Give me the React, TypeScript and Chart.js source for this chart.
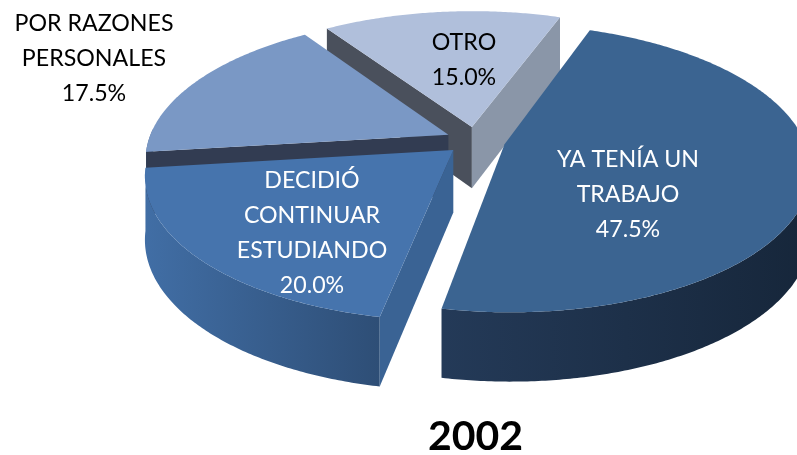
import React, { useEffect, useRef } from "react";
import { Chart, registerables } from "chart.js";

Chart.register(...registerables);

const categories = ["YA TENÍA UN TRABAJO", "DECIDIÓ CONTINUAR ESTUDIANDO", "POR RAZONES PERSONALES", "OTRO"];
const shares = [47.5, 20.0, 17.5, 15.0];
const labelLines = [
  ["YA TENÍA UN", "TRABAJO", "47.5%"],
  ["DECIDIÓ", "CONTINUAR", "ESTUDIANDO", "20.0%"],
  ["POR RAZONES", "PERSONALES", "17.5%"],
  ["OTRO", "15.0%"],
];
const chartTitle = "2002";

const topColors = ["#3b6491", "#4674ad", "#7a98c5", "#b0bfdb"];
const labelColors = ["#ffffff", "#ffffff", "#000000", "#000000"];
const labelCenters = [
  [628, 194.5],
  [312, 233.5],
  [94, 58.5],
  [464, 60],
];
const cutWallColors = ["#2a3f5c", "#3a6394", "#323c52", "#4a505c"];
const endWallColors = ["#2a3f5c", "#3a6394", "#4a5a78", "#8a96a8"];
const rimGradients = [
  ["#243a58", "#16263a"],
  ["#416ea5", "#2e4e76"],
  ["#5a7299", "#46597a"],
  ["#7c8aa3", "#667388"],
];

// 3D pie view: camera model of the flattened, perspective disc
const VIEW = { cx: 475.5, cy: 140.5, sx: 300, sy: 139, persp: 0.165, depth: 62, explode: 0.1 };

function project(u: number, v: number, lower: boolean) {
  const w = 1 / (1 - VIEW.persp * v);
  const x = VIEW.cx + VIEW.sx * u * w;
  const y = VIEW.cy + VIEW.sy * v * w + (lower ? VIEW.depth * Math.pow(w, 0.6) : 0);
  return [x, y];
}

function poly(ctx: CanvasRenderingContext2D, pts: number[][], fill: any) {
  ctx.beginPath();
  pts.forEach((p, i) => (i ? ctx.lineTo(p[0], p[1]) : ctx.moveTo(p[0], p[1])));
  ctx.closePath();
  ctx.fillStyle = fill;
  ctx.fill();
}

function area(p: number[][]) {
  let s = 0;
  p.forEach((a, i) => {
    const b = p[(i + 1) % p.length];
    s += a[0] * b[1] - b[0] * a[1];
  });
  return s;
}

const pie3d = {
  id: "pie3d",
  beforeDatasetDraw(chart: any, args: any) {
    const ctx: CanvasRenderingContext2D = chart.ctx;
    const arcs = args.meta.data.map((el: any, index: number) => {
      const { startAngle, endAngle } = el.getProps(["startAngle", "endAngle"], true);
      const mid = (startAngle + endAngle) / 2;
      return { index, startAngle, endAngle, mid, fill: el.options.backgroundColor };
    });
    arcs.sort((a: any, b: any) => Math.sin(a.mid) - Math.sin(b.mid));

    for (const arc of arcs) {
      const ou = Math.cos(arc.mid) * VIEW.explode;
      const ov = Math.sin(arc.mid) * VIEW.explode;
      const steps = Math.ceil((arc.endAngle - arc.startAngle) / 0.01);
      const rim: number[][] = [];
      for (let s = 0; s <= steps; s++) {
        const a = arc.startAngle + ((arc.endAngle - arc.startAngle) * s) / steps;
        rim.push([ou + Math.cos(a), ov + Math.sin(a)]);
      }
      const apexT = project(ou, ov, false);
      const apexB = project(ou, ov, true);
      const rimT = rim.map((p) => project(p[0], p[1], false));
      const rimB = rim.map((p) => project(p[0], p[1], true));

      // outer wall, as one shape over the part of the rim that faces the viewer
      const keep: number[] = [];
      for (let i = 0; i <= steps; i++) {
        const a = arc.startAngle + ((arc.endAngle - arc.startAngle) * i) / steps;
        if (Math.sin(a) > -0.05) keep.push(i);
      }
      if (keep.length > 1) {
        const xs = rimT.map((p) => p[0]);
        const grad = ctx.createLinearGradient(Math.min(...xs), 0, Math.max(...xs), 0);
        grad.addColorStop(0, rimGradients[arc.index][0]);
        grad.addColorStop(1, rimGradients[arc.index][1]);
        poly(ctx, [...keep.map((i) => rimT[i]), ...keep.slice().reverse().map((i) => rimB[i])], grad);
      }

      // cut faces, only when they turn towards the viewer
      const startWall = [apexT, rimT[0], rimB[0], apexB];
      if (area(startWall) < 0) poly(ctx, startWall, cutWallColors[arc.index]);
      const endWall = [apexT, rimT[steps], rimB[steps], apexB];
      if (area(endWall) > 0) poly(ctx, endWall, endWallColors[arc.index]);

      // top face
      poly(ctx, [apexT, ...rimT], arc.fill);
    }
    return false;
  },
  afterDatasetsDraw(chart: any) {
    const ctx: CanvasRenderingContext2D = chart.ctx;
    ctx.save();
    ctx.font = "23.2px Lato";
    ctx.textAlign = "center";
    ctx.textBaseline = "middle";
    labelLines.forEach((lines, i) => {
      ctx.fillStyle = labelColors[i];
      const pitch = 35;
      lines.forEach((line, j) => {
        const y = labelCenters[i][1] + (j - (lines.length - 1) / 2) * pitch;
        ctx.fillText(line, labelCenters[i][0], y);
      });
    });
    ctx.restore();
  },
};

export default function App() {
  const ref = useRef<HTMLCanvasElement>(null);
  useEffect(() => {
    const chart = new Chart(ref.current!, {
      type: "pie",
      data: {
        labels: categories,
        datasets: [{ data: shares, backgroundColor: topColors, borderWidth: 0 }],
      },
      options: {
        animation: false,
        responsive: false,
        rotation: 20,
        layout: { padding: { left: 154, right: 0, top: 0, bottom: 0 } },
        plugins: {
          legend: { display: false },
          tooltip: { enabled: false },
          title: {
            display: true,
            text: chartTitle,
            position: "bottom",
            fullSize: false,
            color: "#000000",
            font: { family: "Lato", size: 41, weight: "bold", lineHeight: 0.9 },
            padding: { top: 0, bottom: 0 },
          },
        },
      },
      plugins: [pie3d],
    } as any);
    return () => chart.destroy();
  }, []);
  return (
    <div style={{ position: "fixed", left: 0, top: 0, width: 797, height: 455, background: "#ffffff" }}>
      <canvas ref={ref} width={797} height={455} style={{ display: "block" }} />
    </div>
  );
}
